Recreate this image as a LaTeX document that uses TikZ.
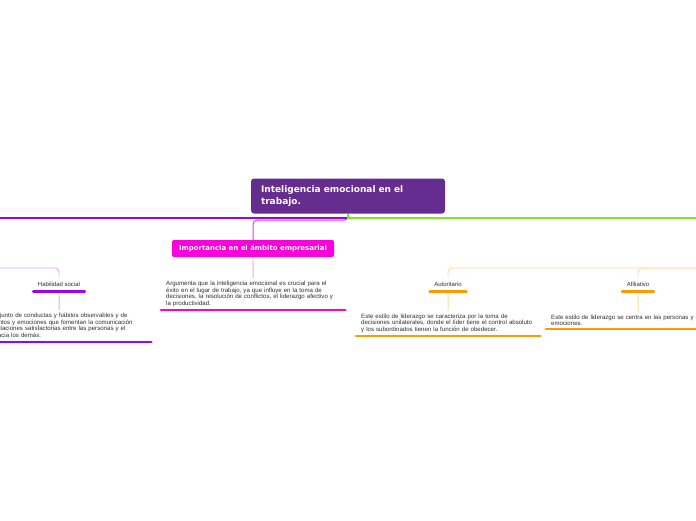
\documentclass[tikz,border=0pt]{standalone}
\usepackage{fontspec}
\setmainfont{Liberation Sans}
\newfontfamily\titulo{DejaVu Sans}
\usetikzlibrary{positioning}
\definecolor{raizcol}{RGB}{102,45,145}
\definecolor{verde}{RGB}{120,235,30}
\definecolor{violeta}{RGB}{160,0,240}
\definecolor{violetaclaro}{RGB}{218,170,250}
\definecolor{magenta}{RGB}{250,0,220}
\definecolor{magentaclaro}{RGB}{245,160,238}
\definecolor{naranja}{RGB}{255,153,0}
\definecolor{naranjaclaro}{RGB}{255,218,160}
\definecolor{gristexto}{RGB}{45,45,45}
\begin{document}
\begin{tikzpicture}[x=1pt,y=-1pt,
    raiz/.style={rectangle,rounded corners=3pt,fill=raizcol,text=white,
                 font=\titulo\bfseries\fontsize{9}{12}\selectfont,
                 text width=174pt,align=left,inner xsep=10pt,
                 minimum width=194pt,minimum height=35pt},
    tema/.style={rectangle,rounded corners=2pt,fill=magenta,text=white,
                 font=\titulo\bfseries\fontsize{6.95}{8}\selectfont,
                 minimum width=162pt,minimum height=17pt,inner sep=0pt},
    etiqueta/.style={inner xsep=4.5pt,inner ysep=0pt,minimum height=14pt,
                 text=gristexto,font=\fontsize{6}{6.6}\selectfont},
    texto/.style={text width=174pt,align=left,inner xsep=5pt,inner ysep=3pt,
                 text=gristexto,font=\fontsize{6.1}{6.6}\selectfont},
    rama/.style={line width=0.9pt,rounded corners=4pt},
    subrayado/.style={line width=2.6pt,line cap=round}]

  \useasboundingbox (0,0) rectangle (696,520);
  \clip (0,0) rectangle (696,520);

  % ---- idea central ---------------------------------------------------------
  \node[raiz] (central) at (348,196) {Inteligencia emocional en el\\trabajo.};
  \coordinate (izquierda) at (-10,218);
  \coordinate (derecha)   at (710,218);

  % ---- tema principal -------------------------------------------------------
  \node[tema] (importancia) at (253,248.5) {Importancia en el ámbito empresarial};
  \node[texto,anchor=south west] (argumenta) at (161,310)
    {Argumenta que la inteligencia emocional es crucial para el\\
     éxito en el lugar de trabajo, ya que influye en la toma de\\
     decisiones, la resolución de conflictos, el liderazgo afectivo y\\
     la productividad.};

  \draw[rama,magenta!80,line width=1pt] (central.south) -- ++(0,6.5) -| (importancia.north);
  \draw[violeta,line width=1.1pt] (central.south) |- (izquierda);
  \draw[verde,line width=1.5pt] (central.south) |- (derecha);
  \draw[magentaclaro,line width=0.9pt] (importancia.south) -- (argumenta.north);
  \draw[subrayado,magenta] (argumenta.south west) -- (argumenta.south east);

  % ---- rama izquierda: habilidad social -------------------------------------
  \coordinate (padresocial) at (-20,268);
  \node[etiqueta] (habilidad) at (59,284) {Habilidad social};
  \node[texto,anchor=south west] (conjunto) at (-33,342)
    {Es un conjunto de conductas y hábitos observables y de\\
     pensamientos y emociones que fomentan la comunicación\\
     eficaz y relaciones satisfactorias entre las personas y el\\
     respeto hacia los demás.};
  \draw[rama,violetaclaro] (padresocial) -| (habilidad.north);
  \draw[violetaclaro,line width=0.9pt] (habilidad.south) -- (conjunto.north);
  \draw[subrayado,violeta] (habilidad.south west) -- (habilidad.south east);
  \draw[subrayado,violeta] (conjunto.south west) -- (conjunto.south east);

  % ---- rama derecha: estilos de liderazgo -----------------------------------
  \coordinate (padrelider) at (720,268);
  \node[etiqueta] (autoritario) at (448,284) {Autoritario};
  \node[etiqueta] (afiliativo)  at (638,284) {Afiliativo};
  \node[texto,anchor=south west] (unilateral) at (356,336)
    {Este estilo de liderazgo se caracteriza por la toma de\\
     decisiones unilaterales, donde el líder tiene el control absoluto\\
     y los subordinados tienen la función de obedecer.};
  \node[texto,anchor=south west] (personas) at (546,329)
    {Este estilo de liderazgo se centra en las personas y sus\\
     emociones.};
  \draw[rama,naranjaclaro] (padrelider) -| (autoritario.north);
  \draw[rama,naranjaclaro] (padrelider) -| (afiliativo.north);
  \draw[naranjaclaro,line width=0.9pt] (autoritario.south) -- (unilateral.north);
  \draw[naranjaclaro,line width=0.9pt] (afiliativo.south) -- (personas.north);
  \foreach \n in {autoritario,afiliativo,unilateral,personas}
    \draw[subrayado,naranja] (\n.south west) -- (\n.south east);

\end{tikzpicture}
\end{document}
